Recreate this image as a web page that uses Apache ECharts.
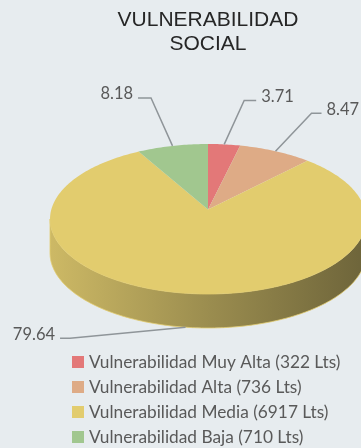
<!DOCTYPE html>
<html>
<head>
<meta charset="utf-8">
<script src="https://cdn.jsdelivr.net/npm/echarts@6/dist/echarts.min.js"></script>
<style>
  html, body { margin: 0; padding: 0; background: #E7ECEF; }
  #chart { width: 361px; height: 448px; }
</style>
</head>
<body>
<div id="chart"></div>
<script>
// Social vulnerability shares (%) and lot counts per category
const categories = [
  'Vulnerabilidad Muy Alta (322 Lts)',
  'Vulnerabilidad Alta (736 Lts)',
  'Vulnerabilidad Media (6917 Lts)',
  'Vulnerabilidad Baja (710 Lts)'
];
const percents = [3.71, 8.47, 79.64, 8.18];
const sliceColors = ['#E37878', '#DEAB86', '#E2CC6E', '#A1C78F'];
const titleLines = ['VULNERABILIDAD', 'SOCIAL'];

// Tilted-disc projection: apex, radii, perspective and wall depth (px)
const CX = 208, CY = 209.5, RX = 156.7, RY = 73.8, PERSP = 0.1266, DEPTH = 34;
// Leader-line elbows relative to each slice anchor: [dx, dy, tail length]
const leaderLayout = [[20, -44, 12], [36, -38, 10], [-115.5, 11, -10], [-21.5, -48, -13]];

const VALUE_FONT = '16.5px Lato, "Open Sans", sans-serif';

function project(theta, drop) {
  const u = Math.sin(theta), v = Math.cos(theta), w = 1 + PERSP * v;
  return [CX + RX * u / w, CY - RY * v / w + (drop || 0)];
}
function arc(a0, a1, drop) {
  const pts = [];
  const n = Math.max(2, Math.ceil((a1 - a0) / (Math.PI / 180)));
  for (let i = 0; i <= n; i++) pts.push(project(a0 + (a1 - a0) * i / n, drop));
  return pts;
}
function shade(hex, f) {
  const n = parseInt(hex.slice(1), 16);
  const r = (n >> 16) & 255, g = (n >> 8) & 255, b = n & 255;
  // darken while pulling slightly toward a neutral grey
  const mix = (c) => Math.round(c * f + 70 * (1 - f) * 0.25);
  return 'rgb(' + mix(r) + ',' + mix(g) + ',' + mix(b) + ')';
}
function sideGradient(color) {
  return {
    type: 'linear', global: true,
    x: CX - RX * 1.01, y: 0, x2: CX + RX * 1.01, y2: 0,
    colorStops: [
      { offset: 0, color: shade(color, 0.9) },
      { offset: 0.5, color: shade(color, 0.66) },
      { offset: 1, color: shade(color, 0.44) }
    ]
  };
}

const total = percents.reduce((a, b) => a + b, 0);
const frontStart = Math.acos(-PERSP), frontEnd = 2 * Math.PI - frontStart;

function renderItem(params, api) {
  const i = params.dataIndex;
  let before = 0;
  for (let k = 0; k < i; k++) before += percents[k];
  const value = api.value(0);
  const a0 = before / total * 2 * Math.PI;
  const a1 = (before + value) / total * 2 * Math.PI;
  const color = sliceColors[i];
  const children = [];

  // visible outer wall (front half only)
  const s0 = Math.max(a0, frontStart), s1 = Math.min(a1, frontEnd);
  if (s1 > s0) {
    const top = arc(s0, s1, 0);
    const bottom = arc(s0, s1, DEPTH).reverse();
    children.push({
      type: 'polygon', z2: 1,
      shape: { points: top.concat(bottom) },
      style: { fill: sideGradient(color), stroke: color, lineWidth: 0.8 }
    });
  }
  // top face
  children.push({
    type: 'polygon', z2: 5,
    shape: { points: [[CX, CY]].concat(arc(a0, a1, 0)) },
    style: { fill: color }
  });

  // value label with leader line
  const mid = (a0 + a1) / 2;
  const anchor = project(mid, (mid > frontStart && mid < frontEnd) ? DEPTH : 0);
  const [dx, dy, tail] = leaderLayout[i];
  const elbow = [anchor[0] + dx, anchor[1] + dy];
  const end = [elbow[0] + tail, elbow[1]];
  children.push({
    type: 'polyline', z2: 8,
    shape: { points: [anchor, elbow, end] },
    style: { stroke: '#8F9599', lineWidth: 1.5, fill: null }
  });
  children.push({
    type: 'text', z2: 9,
    x: end[0] + (tail > 0 ? 5 : -5), y: elbow[1] - 4,
    style: {
      text: value.toFixed(2),
      align: tail > 0 ? 'left' : 'right',
      verticalAlign: 'middle',
      font: VALUE_FONT,
      fill: '#595959'
    }
  });
  return { type: 'group', children };
}

const chart = echarts.init(document.getElementById('chart'), null, { renderer: 'canvas' });
chart.setOption({
  backgroundColor: '#E7ECEF',
  animation: false,
  graphic: [{
    type: 'text', x: 208, y: 32,
    style: {
      text: titleLines.join('\n'),
      align: 'center', verticalAlign: 'middle',
      font: '21px "Liberation Sans", Arial, sans-serif',
      lineHeight: 24.5,
      fill: '#262626'
    }
  }],
  legend: {
    orient: 'vertical',
    left: 72, top: 352,
    padding: 0,
    itemWidth: 12, itemHeight: 12,
    itemGap: 5,
    icon: 'rect',
    data: categories,
    textStyle: { fontSize: 17.3, fontFamily: 'Lato', color: '#595959', lineHeight: 20 }
  },
  series: [
    {
      type: 'custom',
      name: 'VULNERABILIDAD SOCIAL',
      coordinateSystem: 'none',
      renderItem: renderItem,
      silent: true,
      data: percents.map((v, i) => ({ name: 'slice-' + i, value: v }))
    },
    {
      // off-canvas pie that feeds the legend swatches
      type: 'pie',
      silent: true,
      center: [-400, -400],
      radius: 5,
      label: { show: false },
      labelLine: { show: false },
      data: categories.map((n, i) => ({ name: n, value: percents[i], itemStyle: { color: sliceColors[i] } }))
    }
  ]
});
</script>
</body>
</html>
